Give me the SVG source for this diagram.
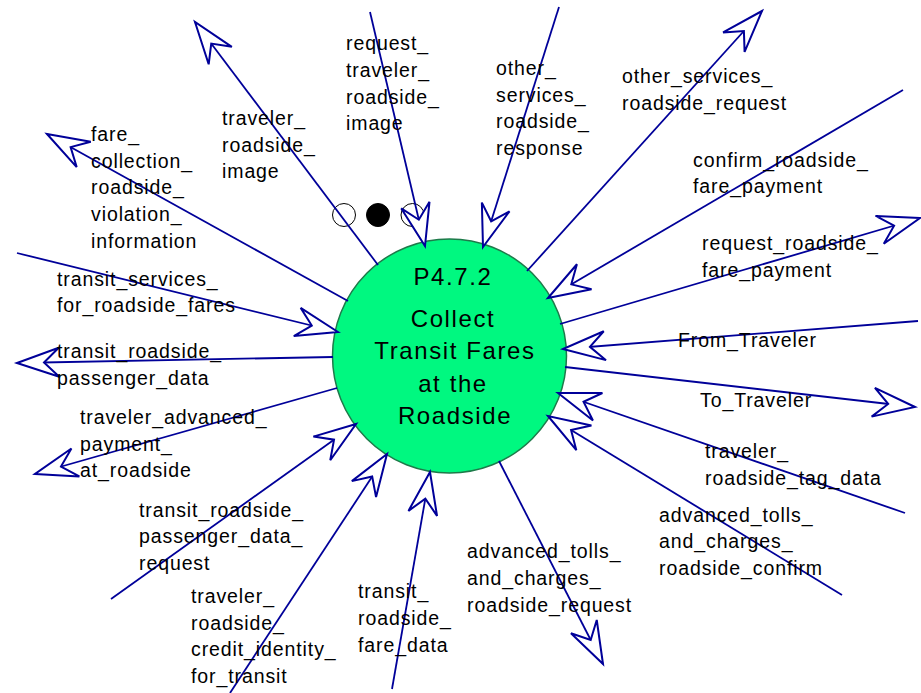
<svg xmlns="http://www.w3.org/2000/svg" width="921" height="693" viewBox="0 0 921 693">
<style>
.lbl{font-family:"Liberation Sans",Arial,sans-serif;font-size:19.5px;letter-spacing:0.9px;fill:#000}
.big{font-family:"Liberation Sans",Arial,sans-serif;font-size:24px;letter-spacing:1.6px;fill:#000;text-anchor:middle}
.flow{stroke:#000099;stroke-width:1.8;fill:none;marker-end:url(#ah)}
.dot{stroke:#000;stroke-width:1}
</style>
<defs>
<marker id="ah" markerUnits="userSpaceOnUse" orient="auto" refX="0" refY="0" markerWidth="50" markerHeight="40" overflow="visible">
<path d="M0,0 L-42,-14.5 L-27,0 L-42,14.5 Z" fill="#fff" stroke="#000099" stroke-width="2" stroke-linejoin="miter"/>
</marker>
</defs>
<rect width="921" height="693" fill="#fff"/>
<g id="P4.7.2">
<circle cx="449.5" cy="356" r="117" fill="#00F880" stroke="#1E7A4A" stroke-width="1.5"/>
<text class="big" x="453" y="285">P4.7.2</text>
<text class="big" x="453" y="327">Collect</text>
<text class="big" x="455" y="359">Transit Fares</text>
<text class="big" x="453" y="392">at the</text>
<text class="big" x="455" y="424">Roadside</text>
</g>
<g id="dots">
<circle class="dot" cx="344" cy="215" r="11.5" fill="#fff"/>
<circle class="dot" cx="378" cy="215" r="11.5" fill="#000"/>
<circle class="dot" cx="412.5" cy="215" r="11.5" fill="#fff"/>
</g>
<g id="connectors">
<line class="flow" x1="378" y1="265" x2="195" y2="22"/>
<line class="flow" x1="370" y1="12" x2="425" y2="246"/>
<line class="flow" x1="559" y1="7" x2="483" y2="247"/>
<line class="flow" x1="527" y1="271" x2="762" y2="11"/>
<line class="flow" x1="903" y1="90" x2="548" y2="298"/>
<line class="flow" x1="560" y1="324" x2="920" y2="218"/>
<line class="flow" x1="918" y1="321" x2="563" y2="349"/>
<line class="flow" x1="565" y1="367" x2="915" y2="407"/>
<line class="flow" x1="905" y1="513" x2="558" y2="393"/>
<line class="flow" x1="842" y1="595" x2="548" y2="416"/>
<line class="flow" x1="499" y1="461" x2="603" y2="664"/>
<line class="flow" x1="392" y1="689" x2="430" y2="472"/>
<line class="flow" x1="230" y1="693" x2="387" y2="454"/>
<line class="flow" x1="111" y1="599" x2="356" y2="424"/>
<line class="flow" x1="337" y1="388" x2="35" y2="474"/>
<line class="flow" x1="333" y1="357" x2="17" y2="363"/>
<line class="flow" x1="17" y1="253" x2="338" y2="332"/>
<line class="flow" x1="348" y1="301" x2="47" y2="134"/>
</g>
<g id="labels">
<text class="lbl" x="222"><tspan x="222" y="125">traveler_</tspan><tspan x="222" y="152">roadside_</tspan><tspan x="222" y="178">image</tspan></text>
<text class="lbl"><tspan x="346" y="50">request_</tspan><tspan x="346" y="77">traveler_</tspan><tspan x="346" y="104">roadside_</tspan><tspan x="346" y="130">image</tspan></text>
<text class="lbl"><tspan x="496" y="75">other_</tspan><tspan x="496" y="102">services_</tspan><tspan x="496" y="128">roadside_</tspan><tspan x="496" y="155">response</tspan></text>
<text class="lbl"><tspan x="622" y="83">other_services_</tspan><tspan x="622" y="110">roadside_request</tspan></text>
<text class="lbl"><tspan x="693" y="167">confirm_roadside_</tspan><tspan x="693" y="193">fare_payment</tspan></text>
<text class="lbl"><tspan x="702" y="250">request_roadside_</tspan><tspan x="702" y="277">fare_payment</tspan></text>
<text class="lbl" x="678" y="347">From_Traveler</text>
<text class="lbl" x="700" y="407">To_Traveler</text>
<text class="lbl"><tspan x="705" y="458">traveler_</tspan><tspan x="705" y="485">roadside_tag_data</tspan></text>
<text class="lbl"><tspan x="659" y="522">advanced_tolls_</tspan><tspan x="659" y="548">and_charges_</tspan><tspan x="659" y="575">roadside_confirm</tspan></text>
<text class="lbl"><tspan x="467" y="558">advanced_tolls_</tspan><tspan x="467" y="585">and_charges_</tspan><tspan x="467" y="612">roadside_request</tspan></text>
<text class="lbl"><tspan x="358" y="598">transit_</tspan><tspan x="358" y="625">roadside_</tspan><tspan x="358" y="652">fare_data</tspan></text>
<text class="lbl"><tspan x="191" y="603">traveler_</tspan><tspan x="191" y="630">roadside_</tspan><tspan x="191" y="656">credit_identity_</tspan><tspan x="191" y="683">for_transit</tspan></text>
<text class="lbl"><tspan x="139" y="517">transit_roadside_</tspan><tspan x="139" y="543">passenger_data_</tspan><tspan x="139" y="570">request</tspan></text>
<text class="lbl"><tspan x="80" y="424">traveler_advanced_</tspan><tspan x="80" y="451">payment_</tspan><tspan x="80" y="477">at_roadside</tspan></text>
<text class="lbl"><tspan x="57" y="358">transit_roadside_</tspan><tspan x="57" y="385">passenger_data</tspan></text>
<text class="lbl"><tspan x="57" y="286">transit_services_</tspan><tspan x="57" y="312">for_roadside_fares</tspan></text>
<text class="lbl"><tspan x="91" y="141">fare_</tspan><tspan x="91" y="168">collection_</tspan><tspan x="91" y="194">roadside_</tspan><tspan x="91" y="221">violation_</tspan><tspan x="91" y="248">information</tspan></text>
</g>
</svg>
